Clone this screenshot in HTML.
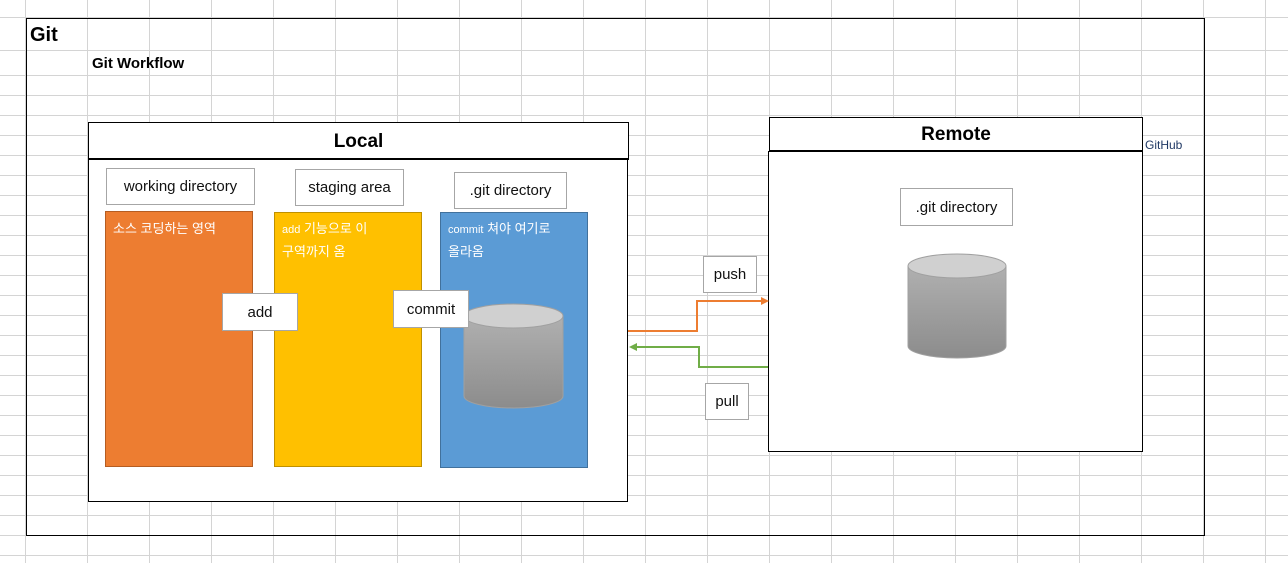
<!DOCTYPE html>
<html><head><meta charset="utf-8"><style>
*{margin:0;padding:0;box-sizing:border-box}
body{width:1288px;height:563px;position:relative;overflow:hidden;background:#fff;font-family:"Liberation Sans","Noto Sans CJK KR",sans-serif}
.grid{position:absolute;left:0;top:0;width:1288px;height:563px}
.rows{position:absolute;left:0;width:1288px;background-image:repeating-linear-gradient(to bottom,#d4d4d4 0 1px,transparent 1px 20px)}
.b{position:absolute;background:#fff}
.t{position:absolute;white-space:nowrap}
.lbl{position:absolute;background:#fff;border:1px solid #a6a6a6;font-size:15px;color:#111;display:flex;align-items:center;justify-content:center}
</style></head><body>
<div class="grid" style="background-image:repeating-linear-gradient(to right,transparent 0 25px,#d4d4d4 25px 26px,transparent 26px 62px)"></div>
<div class="rows" style="height:1px;top:17px"></div>
<div class="rows" style="top:50px;height:1px"></div>
<div class="rows" style="top:75px;height:490px"></div>

<div class="b" style="left:26px;top:18px;width:1179px;height:518px;border:1px solid #000;background:transparent"></div>
<div class="t" style="left:30px;top:24px;font-size:20px;font-weight:bold">Git</div>
<div class="t" style="left:92px;top:55px;font-size:15px;font-weight:bold">Git Workflow</div>

<div class="b" style="left:88px;top:122px;width:541px;height:38px;border:1px solid #000;border-bottom:2px solid #000;font-size:19px;font-weight:bold;text-align:center;line-height:38px">Local</div>
<div class="b" style="left:88px;top:159px;width:540px;height:343px;border:1px solid #000"></div>
<div class="lbl" style="left:106px;top:168px;width:149px;height:37px">working directory</div>
<div class="lbl" style="left:295px;top:169px;width:109px;height:37px">staging area</div>
<div class="lbl" style="left:454px;top:172px;width:113px;height:37px">.git directory</div>

<div class="b" style="left:105px;top:211px;width:148px;height:256px;background:#ed7d31;border:1px solid #b55d22"></div>
<div class="t" style="left:113px;top:218px;font-size:13px;color:#fff">소스 코딩하는 영역</div>
<div class="b" style="left:274px;top:212px;width:148px;height:255px;background:#ffc000;border:1px solid #bf9000"></div>
<div class="t" style="left:282px;top:218px;font-size:13px;color:#fff;line-height:22px"><span style="font-size:11px">add</span> 기능으로 이<br>구역까지 옴</div>
<div class="b" style="left:440px;top:212px;width:148px;height:256px;background:#5b9bd5;border:1px solid #41719c"></div>
<div class="t" style="left:448px;top:218px;font-size:13px;color:#fff;line-height:22px"><span style="font-size:11px">commit</span> 쳐야 여기로<br>올라옴</div>

<div class="b" style="left:769px;top:117px;width:374px;height:35px;border:1px solid #000;border-bottom:2px solid #000;font-size:19px;font-weight:bold;text-align:center;line-height:34px">Remote</div>
<div class="b" style="left:768px;top:151px;width:375px;height:301px;border:1px solid #000"></div>
<div class="t" style="left:1145px;top:138px;font-size:12px;color:#1f3864">GitHub</div>

<svg style="position:absolute;left:0;top:0" width="1288" height="563">
<defs><linearGradient id="g" x1="0" y1="0" x2="0" y2="1"><stop offset="0" stop-color="#b0b0b0"/><stop offset="1" stop-color="#8c8c8c"/></linearGradient></defs>
<path d="M464 316 V396 A49.5 12 0 0 0 563 396 V316 Z" fill="url(#g)" stroke="#a0a0a0"/>
<ellipse cx="513.5" cy="316" rx="49.5" ry="12" fill="#d0d0d0" stroke="#a0a0a0"/>
<path d="M908 266 V346 A49 12 0 0 0 1006 346 V266 Z" fill="url(#g)" stroke="#a0a0a0"/>
<ellipse cx="957" cy="266" rx="49" ry="12" fill="#d0d0d0" stroke="#a0a0a0"/>
<polyline points="628,331 697,331 697,301 762,301" fill="none" stroke="#ed7d31" stroke-width="2"/>
<polygon points="769,301 761,297 761,305" fill="#ed7d31"/>
<polyline points="768,367 699,367 699,347 636,347" fill="none" stroke="#70ad47" stroke-width="2"/>
<polygon points="629,347 637,343 637,351" fill="#70ad47"/>
</svg>

<div class="lbl" style="left:222px;top:293px;width:76px;height:38px">add</div>
<div class="lbl" style="left:393px;top:290px;width:76px;height:38px">commit</div>
<div class="lbl" style="left:900px;top:188px;width:113px;height:38px">.git directory</div>
<div class="lbl" style="left:703px;top:256px;width:54px;height:37px">push</div>
<div class="lbl" style="left:705px;top:383px;width:44px;height:37px">pull</div>
</body></html>
